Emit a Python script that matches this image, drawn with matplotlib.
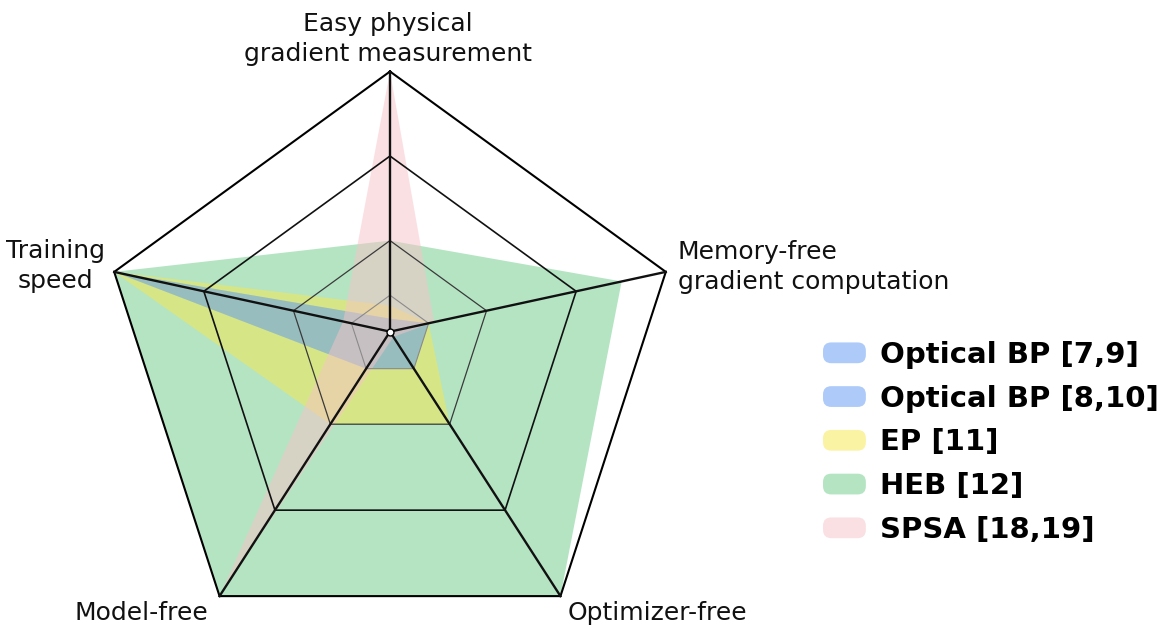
import numpy as np
import matplotlib
matplotlib.use("Agg")
import matplotlib.pyplot as plt
from matplotlib.patches import Patch, FancyBboxPatch
from matplotlib.legend_handler import HandlerPatch

plt.rcParams['font.family'] = ['DejaVu Sans']

# axes of the radar, clockwise from the top
criteria = ['Easy physical\ngradient measurement', 'Memory-free\ngradient computation',
            'Optimizer-free', 'Model-free', 'Training\nspeed']

# scores (fraction of the spoke length), same order as criteria
bp_7_9 = [0.05, 0.14, 0.14, 0.14, 1.0]
bp_8_10 = [0.05, 0.14, 0.14, 0.14, 1.0]
ep_11 = [0.10, 0.14, 0.35, 0.35, 1.0]
heb_12 = [0.35, 0.84, 1.0, 1.0, 1.0]
spsa_18_19 = [1.0, 0.16, 0.02, 1.0, 0.17]

series_names = ['Optical BP [7,9]', 'Optical BP [8,10]', 'EP [11]', 'HEB [12]', 'SPSA [18,19]']
grid_levels = [0.14, 0.35, 0.675, 1.0]

# frame geometry: regular pentagon of radius 1, spokes meet at a hub slightly above centre
angles = np.deg2rad([90, 18, -54, -126, 162])
vx, vy = np.cos(angles), np.sin(angles)
hub = np.array([0.0, 0.103])


def to_xy(vals):
    v = np.asarray(vals, dtype=float)
    x = hub[0] + v * (vx - hub[0])
    y = hub[1] + v * (vy - hub[1])
    return x, y


def closed(x, y):
    return np.append(x, x[0]), np.append(y, y[0])


class RoundSwatch(HandlerPatch):
    def create_artists(self, legend, orig, xdescent, ydescent, width, height, fontsize, trans):
        fc = matplotlib.colors.to_rgba(orig.get_facecolor(), 0.5)
        p = FancyBboxPatch((-xdescent, -ydescent), width, height,
                           boxstyle='round,pad=0,rounding_size=%f' % (height * 0.4),
                           facecolor=fc, edgecolor='none', transform=trans)
        return [p]


fig = plt.figure(figsize=(11.68, 6.30), dpi=100)
ax = fig.add_axes([0, 0, 1, 1])
ax.set_xlim(-390 / 290, 778 / 290)
ax.set_ylim(-268.5 / 290, 361.5 / 290)
ax.axis('off')

colors = ['#5d97f5', '#5d97f5', '#f8e84a', '#6ccb89', '#f7c3c7']
alphas = [0.3, 0.3, 0.5, 0.5, 0.5]
data = [bp_7_9, bp_8_10, ep_11, heb_12, spsa_18_19]
draw_order = [3, 2, 0, 1, 4]  # green at the bottom, pink on top
for i in draw_order:
    x, y = to_xy(data[i])
    ax.fill(x, y, color=colors[i], alpha=alphas[i], lw=0, zorder=2 + draw_order.index(i))

# grid rings
ring_style = {0.14: ('#8a8a8a', 0.8), 0.35: ('#3a3a3a', 0.9), 0.675: ('#111111', 1.2), 1.0: ('black', 1.5)}
for lvl in grid_levels:
    c, w = ring_style[lvl]
    x, y = closed(*to_xy(np.full(5, lvl)))
    ax.plot(x, y, color=c, lw=w, zorder=10, solid_joinstyle='miter')

# spokes
ox, oy = to_xy(np.ones(5))
for k in range(5):
    ax.plot([hub[0], ox[k]], [hub[1], oy[k]], color='#111111', lw=1.7, zorder=11)
ax.plot(hub[0], hub[1], 'o', ms=5, mfc='white', mec='black', mew=1.0, zorder=12)

# axis labels
label_offsets = [(-2, 5, 'center', 'bottom'), (12, 5, 'left', 'center'), (7, -17, 'left', 'center'),
                 (-78, -17, 'center', 'center'), (-59, 6, 'center', 'center')]
for k, name in enumerate(criteria):
    dx, dy, ha, va = label_offsets[k]
    ax.annotate(name, (ox[k], oy[k]), xytext=(dx, dy), textcoords='offset pixels',
                ha=ha, va=va, fontsize=18, color='#111111', multialignment=ha,
                linespacing=1.35)

handles = [Patch(facecolor=colors[i], label=series_names[i]) for i in range(5)]
leg = fig.legend(handles=handles, loc='upper left', bbox_to_anchor=(823 / 1168, 1 - 341 / 630),
                 frameon=False, prop={'size': 21, 'weight': 'bold'}, borderpad=0, borderaxespad=0,
                 handlelength=1.47, handleheight=0.72, handletextpad=0.48, labelspacing=0.54,
                 handler_map={Patch: RoundSwatch()})

fig.savefig('out.png', dpi=100)
